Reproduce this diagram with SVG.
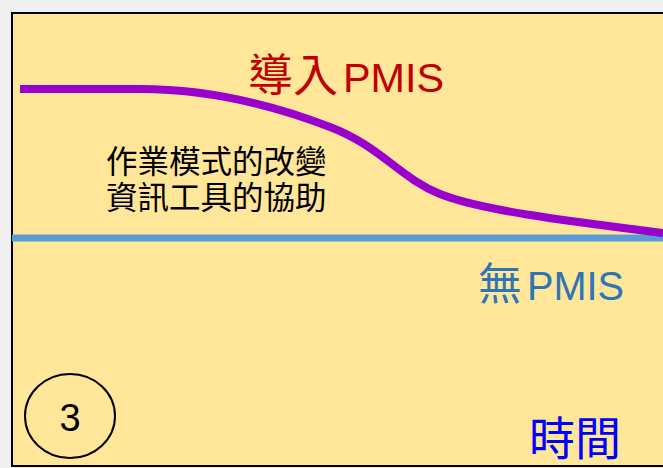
<svg xmlns="http://www.w3.org/2000/svg" width="663" height="468" viewBox="0 0 663 468">
<style>
.cjk{font-family:"Noto Sans CJK TC","Noto Sans CJK SC",sans-serif}
.lat{font-family:"Liberation Sans","Noto Sans CJK TC",sans-serif}
</style>
<rect x="0" y="0" width="663" height="468" fill="#f0f0f0"/>
<rect id="panel" x="12" y="13" width="660" height="453" fill="#FFE699" stroke="#000" stroke-width="2"/>
<g id="connectors" fill="none">
<line x1="12" y1="238" x2="663" y2="238" stroke="#5B9BD5" stroke-width="7"/>
<path d="M20 89 L140 89 C200 89 260 100 330 127 C380 146 400 178 440 194 C480 210 560 220 663 233" stroke="#9900CC" stroke-width="8"/>
</g>
<g id="label-pmis" fill="#C00000">
<text x="248" y="92" font-size="45" class="cjk">導入</text>
<text x="343" y="92" font-size="40" class="lat" textLength="101" lengthAdjust="spacingAndGlyphs">PMIS</text>
</g>
<g id="label-nopmis" fill="#2E75B6">
<text x="478" y="300" font-size="44" class="cjk">無</text>
<text x="527" y="300" font-size="40" class="lat" textLength="97" lengthAdjust="spacingAndGlyphs">PMIS</text>
</g>
<g id="label-desc" class="cjk" font-size="31.5" fill="#000">
<text x="106" y="173">作業模式的改變</text>
<text x="106" y="209">資訊工具的協助</text>
</g>
<g id="badge">
<ellipse cx="70" cy="416" rx="45" ry="42" fill="none" stroke="#000" stroke-width="2"/>
<text x="70" y="431" font-size="38" text-anchor="middle" class="lat" fill="#000">3</text>
</g>
<g id="label-time">
<text x="529" y="455" font-size="46" class="cjk" fill="#0000FF">時間</text>
</g>
</svg>
